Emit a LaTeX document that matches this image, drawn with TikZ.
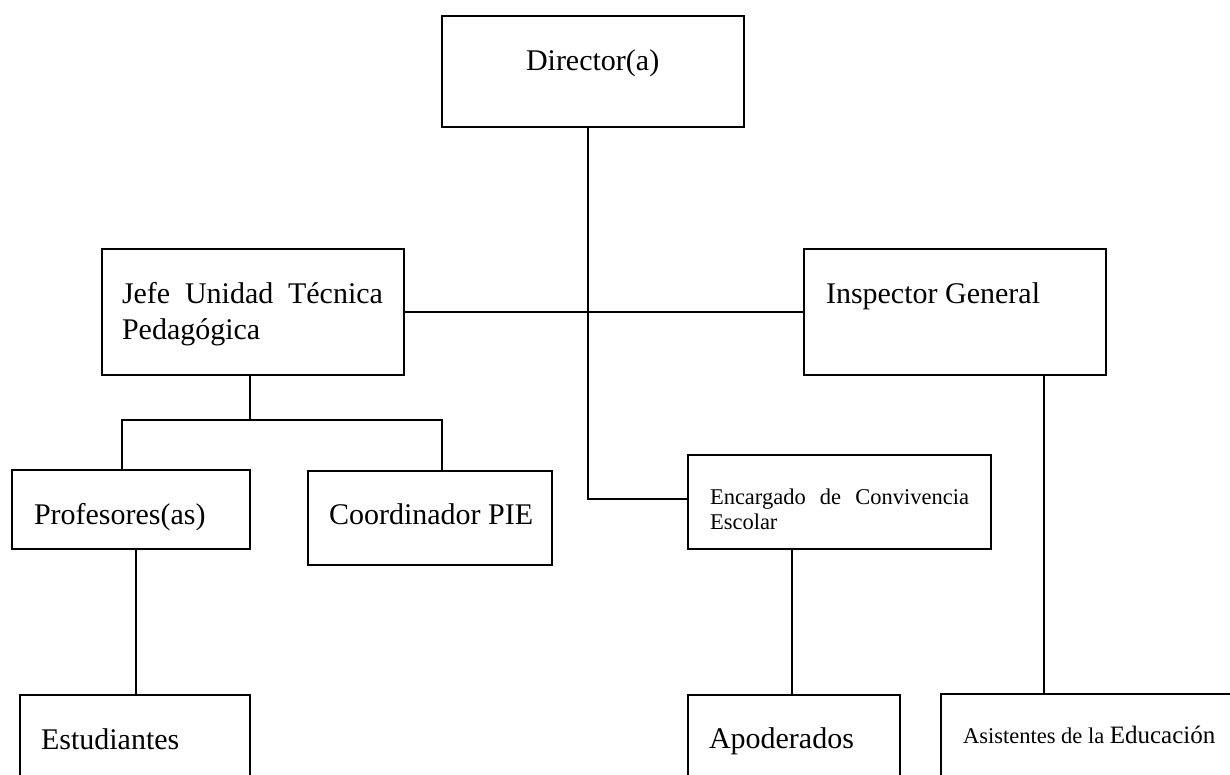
\documentclass[tikz,border=0pt]{standalone}
\usepackage{fontspec}
\setmainfont{Liberation Serif}
\begin{document}
\begin{tikzpicture}[x=1pt,y=-1pt,
  box/.style={draw=black, line width=2pt, fill=white, inner sep=0pt, outer sep=0pt},
  conn/.style={draw=black, line width=1.8pt},
  lbl/.style={anchor=base west, inner sep=0pt, outer sep=0pt, font=\fontsize{30}{36}\selectfont},
  slbl/.style={anchor=base west, inner sep=0pt, outer sep=0pt, font=\fontsize{22.5}{27}\selectfont}]
\useasboundingbox (0,0) rectangle (1230,775);
\clip (0,0) rectangle (1230,775);
\fill[white] (0,0) rectangle (1230,775);

% connectors coordinates
\coordinate (trunk) at (588,0);
\coordinate (bmid) at (250,420);
\coordinate (bl) at (122,420);
\coordinate (br) at (442,420);
\coordinate (c1) at (136,0);
\coordinate (c2) at (792,0);
\coordinate (c3) at (1044,0);

% boxes
\node[box, minimum width=302pt, minimum height=111pt] (dir) at (593,71.5) {};
\node[box, minimum width=302pt, minimum height=126pt] (jefe) at (253,312) {};
\node[box, minimum width=302pt, minimum height=126pt] (insp) at (955,312) {};
\node[box, minimum width=303pt, minimum height=94pt] (enc) at (839.5,502) {};
\node[box, minimum width=238pt, minimum height=79pt] (prof) at (131,509.5) {};
\node[box, minimum width=244pt, minimum height=94pt] (coord) at (430,518) {};
\node[box, minimum width=230pt, minimum height=105pt] (est) at (135,747.5) {};
\node[box, minimum width=212pt, minimum height=105pt] (apod) at (794,747.5) {};
\node[box, minimum width=319pt, minimum height=106pt] (asis) at (1100.5,747) {};

% connectors
\draw[conn] (dir.south -| trunk) |- ([yshift=3pt]enc.west);
\draw[conn] (jefe.east) -- (insp.west);
\draw[conn] (jefe.south -| bmid) -- (bmid);
\draw[conn] (prof.north -| bl) -- (bl) -- (br) -- (coord.north -| br);
\draw[conn] (prof.south -| c1) -- (est.north -| c1);
\draw[conn] (enc.south -| c2) -- (apod.north -| c2);
\draw[conn] (insp.south -| c3) -- (asis.north -| c3);

% labels
\node[lbl] (tdir) at (526,71) {Director(a)};
\node[lbl] (tjefe1) at (122,304) {\makebox[261pt][s]{Jefe Unidad Técnica}};
\node[lbl] (tjefe2) at (122,339) {Pedagógica};
\node[lbl] (tinsp) at (826,303) {Inspector General};
\node[slbl] (tenc1) at (710,504) {\makebox[259pt][s]{Encargado de Convivencia}};
\node[slbl] (tenc2) at (710,529) {Escolar};
\node[lbl] (tprof) at (34,524) {Profesores(as)};
\node[lbl] (tcoord) at (329,524) {Coordinador PIE};
\node[lbl] (test) at (41,749) {Estudiantes};
\node[lbl] (tapod) at (709,748) {Apoderados};
\node[slbl] (tasis) at (963,743) {Asistentes de la {\fontsize{25}{30}\selectfont Educación}};
\end{tikzpicture}
\end{document}
